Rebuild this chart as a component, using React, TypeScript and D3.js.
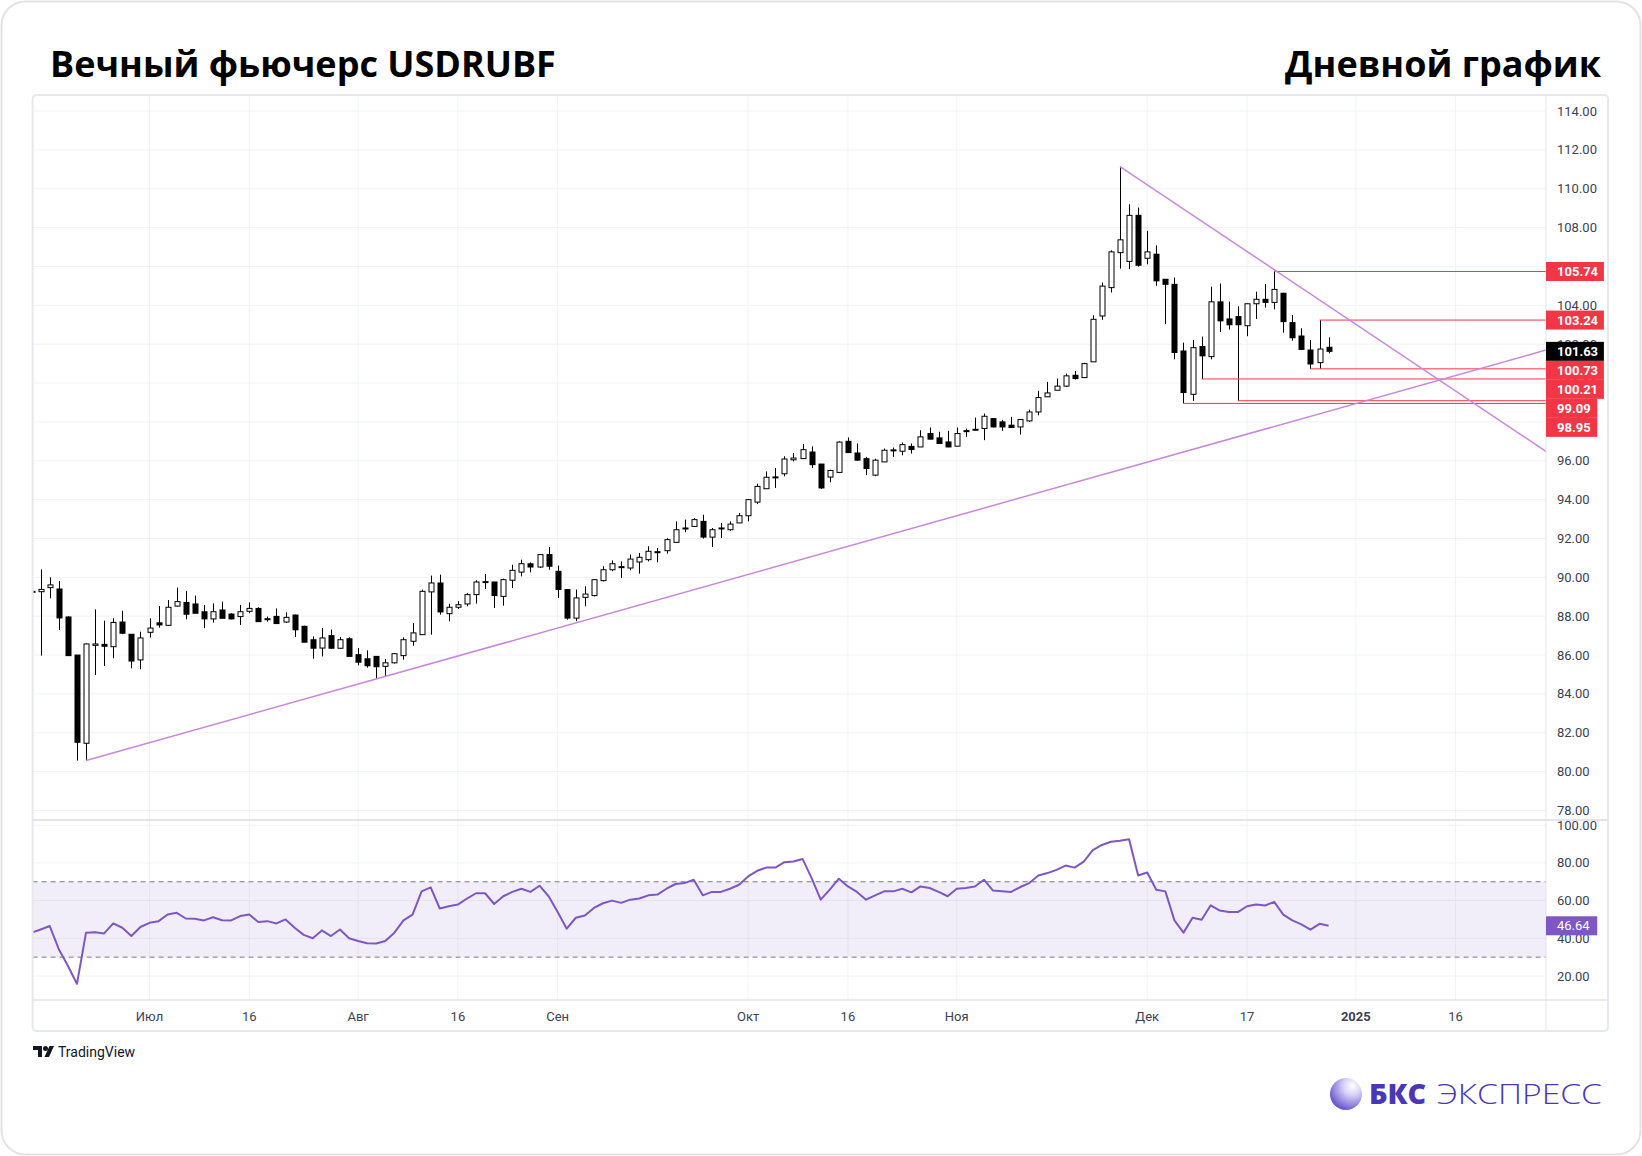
import React from 'react';
import * as d3 from 'd3';

// daily candles, index 0 = first visible bar (mid June 2024)
const opens = [
  89.28, 89.26, 89.47, 89.40, 87.96, 86.00, 81.46, 86.50, 86.55, 86.43,
  87.70, 87.07, 85.75, 87.17, 87.66, 87.53, 88.52, 88.71, 88.63, 88.23,
  87.86, 88.32, 88.11, 87.98, 88.25, 88.40, 87.87, 87.99, 87.70, 88.06,
  87.48, 86.79, 86.36, 87.00, 86.35, 86.84, 86.02, 85.81, 85.93, 85.42,
  85.60, 85.97, 86.71, 87.05, 89.25, 89.71, 88.13, 88.46, 88.63, 89.11,
  89.78, 89.76, 89.02, 89.85, 90.27, 90.70, 90.53, 91.17, 90.31, 89.37,
  87.90, 88.97, 89.06, 89.83, 90.39, 90.55, 90.48, 90.79, 90.91, 91.32,
  91.37, 91.80, 92.54, 92.62, 92.88, 92.07, 92.54, 92.45, 92.80, 93.17,
  93.87, 94.56, 95.17, 95.33, 96.05, 96.11, 96.45, 95.83, 95.16, 95.40,
  97.00, 96.40, 96.11, 95.26, 95.94, 96.52, 96.49, 96.74, 96.71, 97.40,
  97.18, 96.97, 96.75, 97.52, 97.62, 97.66, 98.17, 98.00, 97.83, 97.74,
  98.05, 98.51, 99.29, 99.63, 99.84, 100.40, 100.28, 101.09, 103.45, 104.91,
  106.71, 106.26, 108.63, 106.42, 106.63, 105.34, 105.08, 101.65, 99.42, 101.88,
  101.36, 104.18, 103.30, 103.42, 102.95, 104.08, 104.31, 104.15, 104.62, 103.11,
  102.42, 101.70, 101.05, 101.84,
];
const highs = [
  89.35, 90.41, 90.00, 89.81, 88.00, 86.00, 86.60, 88.35, 87.77, 87.89,
  88.28, 87.07, 87.20, 87.89, 88.52, 88.83, 89.47, 89.30, 89.06, 88.58,
  88.66, 88.75, 88.15, 88.58, 88.71, 88.46, 87.98, 88.40, 88.20, 88.08,
  87.51, 86.96, 87.39, 87.31, 86.93, 86.91, 86.36, 86.24, 85.93, 85.80,
  86.10, 86.91, 87.65, 89.37, 90.09, 90.14, 88.64, 88.77, 89.19, 89.85,
  90.17, 89.76, 89.93, 90.65, 90.91, 90.77, 91.17, 91.56, 90.60, 89.37,
  89.37, 89.54, 89.91, 90.57, 90.87, 90.82, 91.17, 91.25, 91.60, 91.51,
  92.02, 92.88, 92.97, 93.05, 93.22, 92.54, 92.80, 92.88, 93.31, 94.03,
  94.82, 95.45, 95.63, 96.23, 96.40, 96.86, 96.74, 95.83, 95.54, 97.00,
  97.20, 96.89, 96.20, 96.11, 96.63, 96.68, 96.94, 96.89, 97.57, 97.71,
  97.49, 97.54, 97.71, 97.66, 98.22, 98.43, 98.20, 98.09, 98.26, 98.14,
  98.63, 99.60, 100.06, 100.23, 100.49, 100.62, 101.04, 103.49, 105.17, 106.83,
  111.14, 109.20, 109.03, 107.83, 107.09, 105.34, 105.43, 102.08, 102.22, 102.39,
  104.96, 105.12, 104.19, 103.95, 104.10, 104.70, 105.10, 105.74, 104.65, 103.50,
  102.82, 102.21, 103.24, 102.35,
];
const lows = [
  89.15, 85.97, 88.92, 87.29, 85.97, 80.57, 80.57, 84.97, 85.44, 85.83,
  87.08, 85.32, 85.27, 86.90, 87.41, 87.50, 88.49, 87.84, 88.15, 87.38,
  87.67, 87.89, 87.84, 87.55, 88.15, 87.72, 87.72, 87.62, 87.65, 86.93,
  86.66, 85.81, 85.93, 86.33, 86.33, 85.93, 85.47, 85.35, 84.77, 84.90,
  85.56, 85.76, 86.48, 87.05, 87.05, 88.08, 87.74, 88.37, 88.51, 88.65,
  89.40, 88.42, 88.54, 89.45, 90.05, 90.26, 90.48, 90.39, 88.94, 87.82,
  87.74, 88.51, 89.02, 89.79, 90.31, 89.97, 90.36, 90.19, 90.82, 90.77,
  91.22, 91.80, 92.32, 92.62, 91.99, 91.56, 92.02, 92.40, 92.80, 92.88,
  93.77, 94.56, 94.60, 95.20, 95.97, 96.09, 95.63, 94.55, 94.89, 95.37,
  96.40, 95.99, 95.26, 95.20, 95.94, 96.20, 96.28, 96.37, 96.71, 97.11,
  96.89, 96.71, 96.75, 97.23, 97.57, 97.06, 97.71, 97.54, 97.71, 97.35,
  97.99, 98.34, 99.29, 99.63, 99.80, 100.18, 100.28, 101.09, 103.25, 104.66,
  105.89, 105.86, 105.99, 106.11, 105.00, 103.03, 101.22, 98.95, 99.08, 100.21,
  101.22, 102.63, 102.75, 99.09, 102.41, 103.30, 103.88, 103.79, 102.59, 102.18,
  101.70, 100.73, 100.73, 101.53,
];
const closes = [
  89.24, 89.38, 89.61, 87.91, 85.97, 81.51, 86.57, 86.57, 86.45, 87.68,
  87.12, 85.69, 86.88, 87.39, 87.55, 88.46, 88.75, 88.10, 88.15, 87.86,
  88.23, 87.89, 87.86, 88.23, 88.40, 87.72, 87.85, 87.62, 87.94, 87.30,
  86.66, 86.35, 86.88, 86.35, 86.79, 85.93, 85.63, 85.45, 85.40, 85.60,
  86.07, 86.79, 87.14, 89.28, 89.71, 88.22, 88.46, 88.59, 89.11, 89.76,
  89.74, 89.06, 89.88, 90.36, 90.70, 90.53, 91.17, 90.57, 89.37, 87.90,
  88.94, 89.14, 89.88, 90.39, 90.70, 90.50, 90.94, 91.03, 91.34, 91.30,
  91.94, 92.45, 92.50, 92.97, 92.07, 92.45, 92.50, 92.74, 93.17, 94.00,
  94.68, 95.15, 95.13, 96.09, 96.14, 96.57, 95.80, 94.60, 95.50, 96.96,
  96.42, 96.03, 95.60, 96.03, 96.54, 96.56, 96.83, 96.58, 97.23, 97.11,
  96.89, 96.71, 97.40, 97.55, 97.58, 98.29, 97.74, 97.74, 97.71, 98.12,
  98.51, 99.25, 99.49, 99.84, 100.37, 100.23, 101.00, 103.28, 104.99, 106.75,
  107.37, 108.63, 106.06, 106.75, 105.26, 105.08, 101.57, 99.51, 101.82, 101.40,
  104.18, 103.20, 103.00, 103.00, 104.08, 104.31, 104.15, 104.82, 103.16, 102.33,
  101.73, 100.98, 101.75, 101.63,
];

// RSI(14) readings per bar
const rsiValues = [
  43.0, 44.7, 46.5, 34.2, 25.4, 15.8, 43.0, 43.2, 42.6, 47.9,
  45.6, 41.2, 46.0, 48.2, 49.1, 52.6, 53.5, 50.5, 50.4, 49.5,
  51.2, 49.6, 49.5, 51.8, 52.6, 48.6, 49.1, 47.9, 50.0, 45.6,
  41.8, 40.0, 44.2, 41.2, 44.7, 40.0, 38.6, 37.4, 37.2, 38.6,
  43.0, 49.5, 52.6, 64.9, 67.0, 55.8, 57.0, 57.9, 61.1, 63.9,
  63.9, 58.2, 62.3, 64.6, 66.3, 64.6, 67.9, 62.3, 54.0, 45.1,
  50.9, 52.1, 56.1, 58.6, 60.0, 58.8, 60.5, 61.1, 62.8, 63.2,
  66.3, 68.8, 69.3, 71.1, 62.8, 64.6, 64.6, 66.3, 68.4, 72.8,
  75.8, 77.5, 77.5, 80.4, 80.7, 82.1, 71.9, 60.5, 65.8, 71.6,
  67.5, 64.6, 60.5, 62.8, 64.9, 64.9, 66.3, 64.4, 67.5, 66.7,
  64.6, 62.3, 66.3, 66.7, 67.5, 71.1, 65.3, 64.9, 64.6, 67.2,
  69.3, 73.3, 74.6, 76.3, 78.6, 77.5, 80.7, 86.8, 89.5, 91.2,
  91.8, 92.6, 73.3, 74.9, 65.8, 64.9, 49.5, 43.0, 50.9, 49.8,
  57.5, 54.7, 53.9, 53.9, 57.0, 57.9, 57.4, 59.3, 52.6, 49.5,
  47.4, 44.6, 47.7, 46.64,
];

const timeTickIdx = [13, 24, 36, 47, 58, 79, 90, 102, 123, 134, 146, 157];
const timeTickLabels = ['Июл', '16', 'Авг', '16', 'Сен', 'Окт', '16', 'Ноя', 'Дек', '17', '2025', '16'];

const priceTicks = d3.range(78, 115, 2);
const rsiTicks = [20, 40, 60, 80, 100];

// horizontal levels: bar where the line starts and its price
const levelStart = [137, 142, 141, 129, 133, 127];
const levelPrice = [105.74, 103.24, 100.73, 100.21, 99.09, 98.95];

// trend lines: [barIndex, price] pairs
const supportLine: [number, number][] = [[6, 80.57], [167, 101.7]];
const resistLine: [number, number][] = [[120, 111.14], [167, 96.47]];

const lastPrice = 101.63;
const lastRsi = 46.64;

const W = 1642;
const H = 1156;
const PLOT_L = 32.6;
const PLOT_R = 1546;
const AXIS_R = 1608;
const MAIN_T = 96;
const MAIN_B = 820;
const RSI_B = 1000;
const TIME_B = 1031;

const axisFont = 'Roboto, "Liberation Sans", sans-serif';
const RED = '#f23645';
const GRID = '#f0f2f6';

export default function App() {
  const x = d3.scaleLinear().domain([0, 167]).range([31.6, 1546.3]);
  const y = d3.scaleLinear().domain([78, 114]).range([810.5, 111]);
  const yr = d3.scaleLinear().domain([20, 100]).range([976, 825.2]);

  const rsiLine = d3.line<number>().x((_, i) => x(i)).y(d => yr(d));
  const trend = d3.line<[number, number]>().x(d => x(d[0])).y(d => y(d[1]));

  // price-axis badges, stacked so they never overlap
  const badges = [
    ...levelPrice.map(p => ({ p, fill: RED })),
    { p: lastPrice, fill: '#000000' },
  ].sort((a, b) => b.p - a.p);
  let prevY = -Infinity;
  const placed = badges.map(b => {
    const cy = Math.max(y(b.p), prevY + 19);
    prevY = cy;
    return { ...b, cy };
  });

  const bw = 6;

  return (
    <svg width={W} height={H} style={{ position: 'absolute', left: 0, top: 0, background: '#fff' }}>
      <defs>
        <clipPath id="mainClip">
          <rect x={PLOT_L} y={MAIN_T} width={PLOT_R - PLOT_L} height={MAIN_B - MAIN_T} />
        </clipPath>
        <clipPath id="rsiClip">
          <rect x={PLOT_L} y={MAIN_B} width={PLOT_R - PLOT_L} height={RSI_B - MAIN_B} />
        </clipPath>
        <radialGradient id="ball" cx="70%" cy="25%" r="85%">
          <stop offset="0%" stopColor="#ffffff" />
          <stop offset="35%" stopColor="#d6cff5" />
          <stop offset="100%" stopColor="#5a45c8" />
        </radialGradient>
      </defs>

      <rect x={1.5} y={1.5} width={W - 3} height={H - 3} rx={24} fill="#fff" stroke="#e3e3e3" strokeWidth={2} />

      <text x={50} y={77} fontFamily='"Open Sans", sans-serif' fontWeight={700} fontSize={36} fill="#000">
        Вечный фьючерс USDRUBF
      </text>
      <text x={1601} y={77} textAnchor="end" fontFamily='"Open Sans", sans-serif' fontWeight={700} fontSize={36} fill="#000">
        Дневной график
      </text>

      {/* grid */}
      <g stroke={GRID} strokeWidth={1}>
        {priceTicks.map(t => (
          <line key={'pg' + t} x1={PLOT_L} x2={PLOT_R} y1={y(t)} y2={y(t)} />
        ))}
        {rsiTicks.map(t => (
          <line key={'rg' + t} x1={PLOT_L} x2={PLOT_R} y1={yr(t)} y2={yr(t)} />
        ))}
        {timeTickIdx.map(i => (
          <line key={'tg' + i} x1={x(i)} x2={x(i)} y1={MAIN_T} y2={RSI_B} />
        ))}
      </g>

      {/* RSI band */}
      <rect x={PLOT_L} y={yr(70)} width={PLOT_R - PLOT_L} height={yr(30) - yr(70)} fill="rgba(126,87,194,0.1)" />
      {[70, 30].map(v => (
        <line key={'d' + v} x1={PLOT_L} x2={PLOT_R} y1={yr(v)} y2={yr(v)} stroke="#787b86" strokeDasharray="5,4" strokeWidth={1} />
      ))}

      {/* candles */}
      <g clipPath="url(#mainClip)">
        {opens.map((o, i) => {
          const c = closes[i];
          const up = c >= o;
          const cx = Math.round(x(i)) + 0.5;
          const top = y(Math.max(o, c));
          const bot = y(Math.min(o, c));
          const h = Math.max(bot - top, 1);
          return (
            <g key={'c' + i}>
              <line x1={cx} x2={cx} y1={y(highs[i])} y2={y(lows[i])} stroke="#000" strokeWidth={1} />
              {up ? (
                <rect x={cx - bw / 2 + 0.5} y={top} width={bw - 1} height={h} fill="#fff" stroke="#000" strokeWidth={1} />
              ) : (
                <rect x={cx - bw / 2} y={top - 0.5} width={bw} height={h + 1} fill="#000" />
              )}
            </g>
          );
        })}

        {levelPrice.map((p, k) => (
          <line key={'lv' + k} x1={x(levelStart[k])} x2={PLOT_R} y1={y(p)} y2={y(p)} stroke={RED} strokeWidth={1} />
        ))}

        <path d={trend(supportLine) || ''} fill="none" stroke="#c987dc" strokeWidth={1.5} />
        <path d={trend(resistLine) || ''} fill="none" stroke="#c987dc" strokeWidth={1.5} />
      </g>

      {/* RSI line */}
      <g clipPath="url(#rsiClip)">
        <path d={rsiLine(rsiValues) || ''} fill="none" stroke="#7e57c2" strokeWidth={2} strokeLinejoin="round" />
      </g>

      {/* frame */}
      <rect x={PLOT_L} y={MAIN_T - 1} width={AXIS_R - PLOT_L} height={TIME_B - MAIN_T + 1} rx={4} fill="none" stroke="#e6e8ee" strokeWidth={2} />
      <line x1={PLOT_L} x2={AXIS_R} y1={MAIN_B} y2={MAIN_B} stroke="#e3e5eb" strokeWidth={2} />
      <line x1={PLOT_L} x2={AXIS_R} y1={RSI_B} y2={RSI_B} stroke="#e3e5eb" strokeWidth={1.5} />
      <line x1={PLOT_R} x2={PLOT_R} y1={MAIN_T} y2={TIME_B} stroke="#e3e5eb" strokeWidth={1} />

      {/* price axis */}
      <g fontFamily={axisFont} fontSize={13} fill="#3d4150">
        {priceTicks.map(t => (
          <text key={'pt' + t} x={1557} y={y(t)} dy="0.35em">{t.toFixed(2)}</text>
        ))}
        {rsiTicks.map(t => (
          <text key={'rt' + t} x={1557} y={yr(t)} dy="0.35em">{t.toFixed(2)}</text>
        ))}
      </g>

      {/* badges */}
      <g fontFamily={axisFont} fontSize={13} fontWeight={700}>
        {placed.map((b, k) => {
          const label = b.p.toFixed(2);
          const w = 11 + label.length * 6.65 + 7;
          return (
            <g key={'b' + k}>
              <rect x={PLOT_R} y={b.cy - 9.5} width={w} height={19} fill={b.fill} />
              <text x={1557} y={b.cy} dy="0.35em" fill="#fff">{label}</text>
            </g>
          );
        })}
        <rect x={PLOT_R} y={yr(lastRsi) - 9.5} width={11 + 5 * 6.65 + 7} height={19} fill="#7e57c2" />
        <text x={1557} y={yr(lastRsi)} dy="0.35em" fill="#fff" fontWeight={400}>{lastRsi.toFixed(2)}</text>
      </g>

      {/* time axis */}
      <g fontFamily={axisFont} fontSize={13} fill="#3d4150" textAnchor="middle">
        {timeTickIdx.map((i, k) => (
          <text key={'tt' + k} x={x(i)} y={1016} dy="0.35em" fontWeight={timeTickLabels[k] === '2025' ? 700 : 400}>
            {timeTickLabels[k]}
          </text>
        ))}
      </g>

      {/* TradingView mark */}
      <g fill="#131722">
        <path d="M33 1046 h9 v11 h-4 v-7 h-5 z" />
        <circle cx={45.5} cy={1048.5} r={2.5} />
        <path d="M49.5 1046 h4.5 l-5 11 h-4.5 z" />
        <text x={58} y={1057} fontFamily={axisFont} fontSize={14}>TradingView</text>
      </g>

      {/* BCS Express logo */}
      <circle cx={1346} cy={1094} r={16} fill="url(#ball)" />
      <text x={1369} y={1104} fontFamily='"Open Sans", sans-serif' fontWeight={800} fontSize={28} fill="#4a37b5" textLength={57} lengthAdjust="spacingAndGlyphs">
        БКС
      </text>
      <text x={1437} y={1104} fontFamily='"Open Sans", sans-serif' fontWeight={300} fontSize={28} fill="#4a37b5" textLength={165} lengthAdjust="spacingAndGlyphs">
        ЭКСПРЕСС
      </text>
    </svg>
  );
}
